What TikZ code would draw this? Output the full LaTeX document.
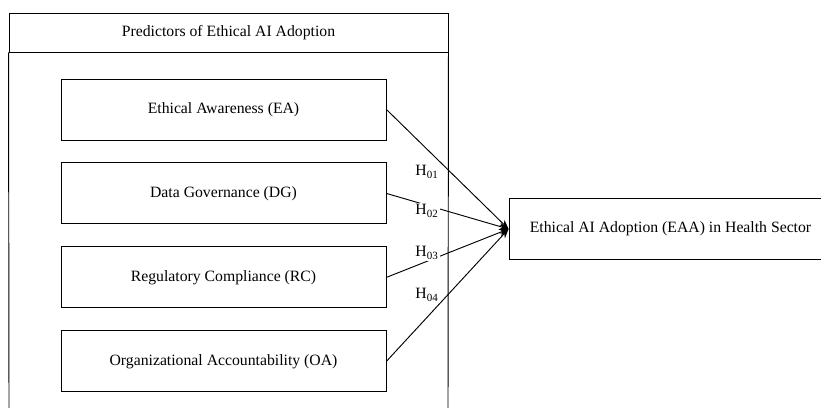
\documentclass[tikz,border=0pt]{standalone}
\usepackage{fontspec}
\setmainfont{Liberation Serif}
\usetikzlibrary{positioning,arrows.meta}

\begin{document}
\begin{tikzpicture}[
    x=0.75pt, y=-0.75pt,
    node distance=16.5pt,
    box/.style={draw, line width=0.7pt, minimum width=243.75pt, minimum height=45.75pt, align=center, font=\fontsize{11.8}{14}\selectfont},
    hyp/.style={fill=white, inner sep=1pt, font=\fontsize{11.8}{14}\selectfont},
    arr/.style={-{Stealth[length=7pt, width=5.5pt]}, line width=0.7pt}
  ]
    \useasboundingbox (0,0) rectangle (821,407);

    % outer frame with title row
    \node[box, minimum width=329.25pt, minimum height=29.25pt] (title) at (228.5,32.5) {Predictors of Ethical AI Adoption};
    \coordinate (fl) at (9,408);
    \coordinate (fr) at (448,408);
    \draw[line width=0.7pt] (title.south west) -- (fl);
    \draw[line width=0.7pt] (title.south east) -- (fr);

    % predictors
    \node[box] (ea) at (223.5,109.5) {Ethical Awareness (EA)};
    \node[box, below=of ea] (dg) {Data Governance (DG)};
    \node[box, below=of dg] (rc) {Regulatory Compliance (RC)};
    \node[box, below=of rc] (oa) {Organizational Accountability (OA)};

    % outcome
    \node[box, minimum width=242.25pt] (eaa) at (670.5,229) {Ethical AI Adoption (EAA) in Health Sector};

    \draw[arr] (ea.east) -- (eaa.west);
    \draw[arr] (dg.east) -- (eaa.west);
    \draw[arr] (rc.east) -- (eaa.west);
    \draw[arr] (oa.east) -- (eaa.west);

    \node[hyp] (h1) at (427,172) {H\textsubscript{01}};
    \node[hyp] (h2) at (427,211) {H\textsubscript{02}};
    \node[hyp] (h3) at (427,253) {H\textsubscript{03}};
    \node[hyp] (h4) at (427,295) {H\textsubscript{04}};
  \end{tikzpicture}
\end{document}
